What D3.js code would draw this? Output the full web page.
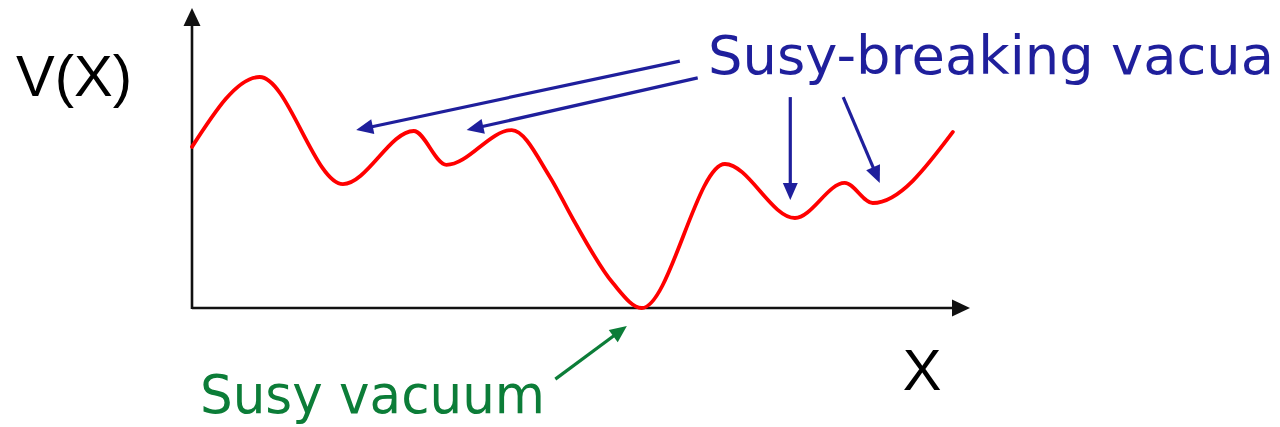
<!DOCTYPE html>
<html>
<head>
<meta charset="utf-8">
<script src="https://cdn.jsdelivr.net/npm/d3@7"></script>
<style>
  html, body { margin: 0; padding: 0; background: #fff; }
  svg { display: block; }
</style>
</head>
<body>
<svg id="chart" width="1280" height="427"></svg>
<script>
// ---- data (schematic potential V(X)) ----
const curveX = [0, 0.87, 1.94, 2.85, 3.27, 4.11, 4.60, 4.90, 5.41, 5.78, 6.85, 7.75, 8.39, 8.75, 9.78];
const curveY = [5.37, 7.70, 4.13, 5.90, 4.77, 5.93, 4.37, 2.95, 0.83, 0.00, 4.80, 3.00, 4.17, 3.50, 5.87];

// annotation arrows (data units): tail -> tip
const breakingTailX = [6.27, 6.50, 7.69, 8.37];
const breakingTailY = [8.23, 7.67, 7.03, 7.03];
const breakingTipX  = [2.11, 3.53, 7.69, 8.84];
const breakingTipY  = [5.93, 5.93, 3.60, 4.17];
const susyTailX = [4.67];
const susyTailY = [-2.37];
const susyTipX  = [5.59];
const susyTipY  = [-0.60];

const labels = {
  yAxis: "V(X)",
  xAxis: "X",
  breaking: "Susy-breaking vacua",
  susy: "Susy vacuum"
};

// ---- drawing ----
const svg = d3.select("#chart");
const x = d3.scaleLinear().domain([0, 10]).range([192, 970]);
const y = d3.scaleLinear().domain([0, 10]).range([308, 8]);

const axisColor = "#111";
const blue = "#1f1f9c";
const green = "#0c7d38";
const red = "#ff0000";

// axes (no ticks)
const gx = svg.append("g").attr("transform", `translate(0,${y(0)})`)
  .call(d3.axisBottom(x).ticks(0).tickSizeOuter(0));
gx.select(".domain").attr("stroke", axisColor).attr("stroke-width", 2.6)
  .attr("d", `M${x(0)},0H${x(10) - 14}`);
const gy = svg.append("g").attr("transform", `translate(${x(0)},0)`)
  .call(d3.axisLeft(y).ticks(0).tickSizeOuter(0));
gy.select(".domain").attr("stroke", axisColor).attr("stroke-width", 2.6)
  .attr("d", `M0,${y(0) + 1}V${y(10) + 14}`);

function arrowHead(tipX, tipY, fromX, fromY, len, half, color) {
  const ang = Math.atan2(tipY - fromY, tipX - fromX);
  const bx = tipX - len * Math.cos(ang), by = tipY - len * Math.sin(ang);
  const px = -Math.sin(ang) * half, py = Math.cos(ang) * half;
  svg.append("path")
    .attr("d", `M${tipX},${tipY}L${bx + px},${by + py}L${bx - px},${by - py}Z`)
    .attr("fill", color);
}
// axis arrowheads
arrowHead(x(10), y(0), x(0), y(0), 18, 8.5, axisColor);
arrowHead(x(0), y(10), x(0), y(0), 18, 8.5, axisColor);

// curve
const pts = curveX.map((v, i) => [v, curveY[i]]);
const line = d3.line().x(d => x(d[0])).y(d => y(d[1])).curve(d3.curveMonotoneX);
svg.append("path").datum(pts)
  .attr("d", line)
  .attr("fill", "none")
  .attr("stroke", red)
  .attr("stroke-width", 3.8)
  .attr("stroke-linecap", "round")
  .attr("stroke-linejoin", "round");

// annotation arrows
function drawArrow(tx, ty, hx, hy, color) {
  const x1 = x(tx), y1 = y(ty), x2 = x(hx), y2 = y(hy);
  const ang = Math.atan2(y2 - y1, x2 - x1);
  const len = 17;
  svg.append("line")
    .attr("x1", x1).attr("y1", y1)
    .attr("x2", x2 - (len - 2) * Math.cos(ang)).attr("y2", y2 - (len - 2) * Math.sin(ang))
    .attr("stroke", color).attr("stroke-width", 3.2);
  arrowHead(x2, y2, x1, y1, len, 7.5, color);
}
breakingTailX.forEach((v, i) => drawArrow(v, breakingTailY[i], breakingTipX[i], breakingTipY[i], blue));
susyTailX.forEach((v, i) => drawArrow(v, susyTailY[i], susyTipX[i], susyTipY[i], green));

// labels
svg.append("text").text(labels.yAxis)
  .attr("x", 16).attr("y", 96)
  .attr("font-family", "Liberation Sans, Arial, sans-serif")
  .attr("font-size", 58).attr("fill", "#000");
svg.append("text").text(labels.xAxis)
  .attr("x", 922).attr("y", 390).attr("text-anchor", "middle")
  .attr("font-family", "Liberation Sans, Arial, sans-serif")
  .attr("font-size", 58).attr("fill", "#000");
svg.append("text").text(labels.breaking)
  .attr("x", 708).attr("y", 74)
  .attr("textLength", 566).attr("lengthAdjust", "spacingAndGlyphs")
  .attr("font-family", "DejaVu Sans, sans-serif")
  .attr("font-size", 54).attr("fill", blue);
svg.append("text").text(labels.susy)
  .attr("x", 200).attr("y", 413)
  .attr("textLength", 345).attr("lengthAdjust", "spacingAndGlyphs")
  .attr("font-family", "DejaVu Sans, sans-serif")
  .attr("font-size", 54).attr("fill", green);
</script>
</body>
</html>
